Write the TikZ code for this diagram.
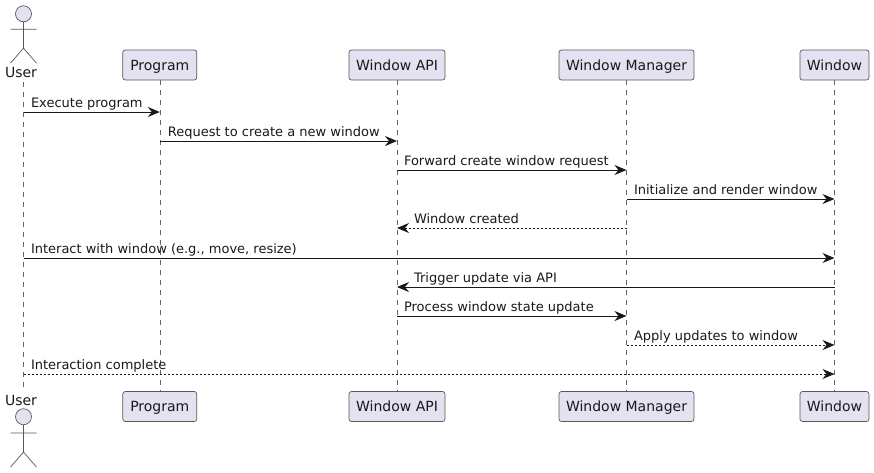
\documentclass[tikz,border=0pt]{standalone}
\usepackage{fontspec}
\setmainfont{DejaVu Sans}
\usetikzlibrary{arrows.meta}
\usetikzlibrary{positioning}

\begin{document}
\begin{tikzpicture}[
	  x=1pt, y=-1pt,
	  every node/.style = {font=\fontsize{13}{15}\selectfont, text=black!90},
	  partbox/.style = {shape=rectangle, rounded corners=2.5pt, draw=black!65, line width=0.7pt, fill=boxfill, minimum height=30pt, inner sep=0pt, text height=13pt, text depth=3pt, font=\fontsize{14}{16}\selectfont},
	  actorname/.style = {inner sep=0pt, text height=13pt, text depth=3pt, minimum height=18pt, font=\fontsize{14}{16}\selectfont},
	  actorhead/.style = {shape=circle, draw=black!65, line width=0.7pt, fill=boxfill, minimum size=16pt, inner sep=0pt},
	  stickman/.style = {draw=black!65, line width=0.7pt},
	  lifeline/.style = {draw=black!60, line width=0.6pt, dash pattern=on 5pt off 5pt},
	  msg/.style = {draw=black!90, line width=1pt, -{Stealth[length=12pt,width=10pt,inset=4pt]}},
	  reply/.style = {msg, dash pattern=on 2pt off 2pt},
	  msglabel/.style = {anchor=base west, inner sep=0pt, yshift=4.6pt}
	]
	  \definecolor{boxfill}{HTML}{E2E2F0}
	  \useasboundingbox (0,0) rectangle (874,472);

	  % top row
	  \node[actorname] (userTop) at (21,72.5) {User};
	  \node[partbox, minimum width=74pt] (programTop) at (159.8,65) {Program};
	  \node[partbox, minimum width=96pt] (apiTop) at (397,65) {Window API};
	  \node[partbox, minimum width=135pt] (managerTop) at (626.5,65) {Window Manager};
	  \node[partbox, minimum width=69pt] (windowTop) at (834.5,65) {Window};

	  % bottom row
	  \node[actorname] (userBot) at (21,400) {User};
	  \node[partbox, minimum width=74pt] (programBot) at (159.8,406.5) {Program};
	  \node[partbox, minimum width=96pt] (apiBot) at (397,406.5) {Window API};
	  \node[partbox, minimum width=135pt] (managerBot) at (626.5,406.5) {Window Manager};
	  \node[partbox, minimum width=69pt] (windowBot) at (834.5,406.5) {Window};

	  % actors
	  \node[actorhead] (headTop) at (23.5,13.8) {};
	  \draw[stickman] (headTop.south) -- ++(0,26) ++(-13,-19) -- ++(26,0) ++(-13,19) -- ++(-13,15) ++(13,-15) -- ++(13,15);
	  \node[actorhead] (headBot) at (23.5,416.7) {};
	  \draw[stickman] (headBot.south) -- ++(0,27) ++(-13,-19) -- ++(26,0) ++(-13,19) -- ++(-13,15) ++(13,-15) -- ++(13,15);

	  % lifelines
	  \draw[lifeline] (headTop |- userTop.south) -- (headBot |- userBot.north);
	  \draw[lifeline] (programTop) -- (programBot);
	  \draw[lifeline] (apiTop) -- (apiBot);
	  \draw[lifeline] (managerTop) -- (managerBot);
	  \draw[lifeline] (windowTop) -- (windowBot);

	  % rows of messages
	  \coordinate (row1) at (0,112);
	  \coordinate (row2) at (0,141);
	  \coordinate (row3) at (0,170);
	  \coordinate (row4) at (0,199);
	  \coordinate (row5) at (0,228);
	  \coordinate (row6) at (0,258);
	  \coordinate (row7) at (0,287);
	  \coordinate (row8) at (0,316);
	  \coordinate (row9) at (0,345);
	  \coordinate (row10) at (0,374);

	  \draw[msg] (headTop |- row1) -- node[msglabel, pos=0, xshift=7pt] (text1) {Execute program} (programTop |- row1);
	  \draw[msg] (programTop |- row2) -- node[msglabel, pos=0, xshift=7.5pt] (text2) {Request to create a new window} (apiTop |- row2);
	  \draw[msg] (apiTop |- row3) -- node[msglabel, pos=0, xshift=6.5pt] (text3) {Forward create window request} (managerTop |- row3);
	  \draw[msg] (managerTop |- row4) -- node[msglabel, pos=0, xshift=7pt] (text4) {Initialize and render window} (windowTop |- row4);
	  \draw[reply] (managerTop |- row5) -- node[msglabel, pos=1, xshift=16.5pt] (text5) {Window created} (apiTop |- row5);
	  \draw[msg] (headTop |- row6) -- node[msglabel, pos=0, xshift=7pt] (text6) {Interact with window (e.g., move, resize)} (windowTop |- row6);
	  \draw[msg] (windowTop |- row7) -- node[msglabel, pos=1, xshift=16.5pt] (text7) {Trigger update via API} (apiTop |- row7);
	  \draw[msg] (apiTop |- row8) -- node[msglabel, pos=0, xshift=6.5pt] (text8) {Process window state update} (managerTop |- row8);
	  \draw[reply] (managerTop |- row9) -- node[msglabel, pos=0, xshift=7pt] (text9) {Apply updates to window} (windowTop |- row9);
	  \draw[reply] (headTop |- row10) -- node[msglabel, pos=0, xshift=7pt] (text10) {Interaction complete} (windowTop |- row10);
	\end{tikzpicture}
\end{document}
